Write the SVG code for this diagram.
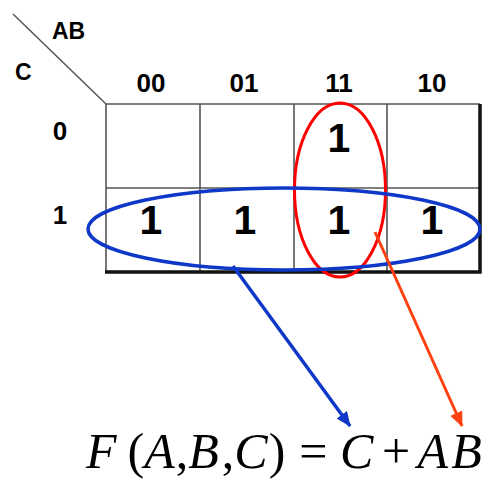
<svg xmlns="http://www.w3.org/2000/svg" width="493" height="479" viewBox="0 0 493 479">
<style>
.lbl{font-family:"Liberation Sans",Arial,sans-serif;font-weight:bold;fill:#000}
.hdr{font-size:26px;text-anchor:middle}
.one{font-size:41px;text-anchor:middle}
.grid{stroke:#555;stroke-width:1.6;fill:none}
.thick{stroke:#111;stroke-width:3.5;fill:none}
.eq{font-family:"Liberation Serif","Times New Roman",serif;font-size:50px;fill:#000}
.it{font-style:italic}
</style>
<defs>
<marker id="ahB" markerWidth="15" markerHeight="13" refX="14" refY="6.5" orient="auto" markerUnits="userSpaceOnUse" viewBox="0 0 15 13">
<path d="M0,0 L15,6.5 L0,13 z" fill="#1038c8"/>
</marker>
<marker id="ahR" markerWidth="15" markerHeight="13" refX="14" refY="6.5" orient="auto" markerUnits="userSpaceOnUse" viewBox="0 0 15 13">
<path d="M0,0 L15,6.5 L0,13 z" fill="#ff4010"/>
</marker>
</defs>
<rect width="493" height="479" fill="#fff"/>
<g id="corner">
<line x1="13" y1="14" x2="106" y2="104" stroke="#555" stroke-width="1.5"/>
<text class="lbl" x="52" y="39" font-size="23">AB</text>
<text class="lbl" x="15" y="80" font-size="23">C</text>
</g>
<g id="headers">
<text class="lbl hdr" x="151" y="92">00</text>
<text class="lbl hdr" x="244" y="92">01</text>
<text class="lbl hdr" x="339" y="92">11</text>
<text class="lbl hdr" x="432" y="92">10</text>
<text class="lbl hdr" x="60" y="140">0</text>
<text class="lbl hdr" x="60" y="224">1</text>
</g>
<g id="grid">
<path class="grid" d="M106,104 H480 M106,188 H480 M106,104 V272 M200,104 V272 M294,104 V272 M387,104 V272"/>
<path class="thick" d="M480,104 V272 H105"/>
</g>
<g id="cells">
<text class="lbl one" x="339" y="152">1</text>
<text class="lbl one" x="151" y="234">1</text>
<text class="lbl one" x="245" y="234">1</text>
<text class="lbl one" x="339" y="234">1</text>
<text class="lbl one" x="432" y="234">1</text>
</g>
<g id="groups">
<ellipse cx="340" cy="190" rx="45.5" ry="87" fill="none" stroke="#ff0000" stroke-width="3"/>
<ellipse cx="284" cy="229" rx="196" ry="41" fill="none" stroke="#1038c8" stroke-width="3.5"/>
</g>
<g id="connectors">
<line x1="233" y1="266" x2="350" y2="426" stroke="#1038c8" stroke-width="3.5" marker-end="url(#ahB)"/>
<line x1="375" y1="232" x2="462" y2="426" stroke="#ff4010" stroke-width="3" marker-end="url(#ahR)"/>
</g>
<g id="equation">
<text class="eq" x="86" y="468"><tspan class="it">F</tspan><tspan dx="11">(</tspan><tspan class="it">A</tspan><tspan dx="1">,</tspan><tspan class="it">B</tspan><tspan dx="3">,</tspan><tspan class="it">C</tspan><tspan dx="1">)</tspan><tspan dx="14">=</tspan><tspan class="it" dx="12.5">C</tspan><tspan dx="8.5">+</tspan><tspan class="it" dx="7.5">A</tspan><tspan class="it" dx="3">B</tspan></text>
</g>
</svg>
